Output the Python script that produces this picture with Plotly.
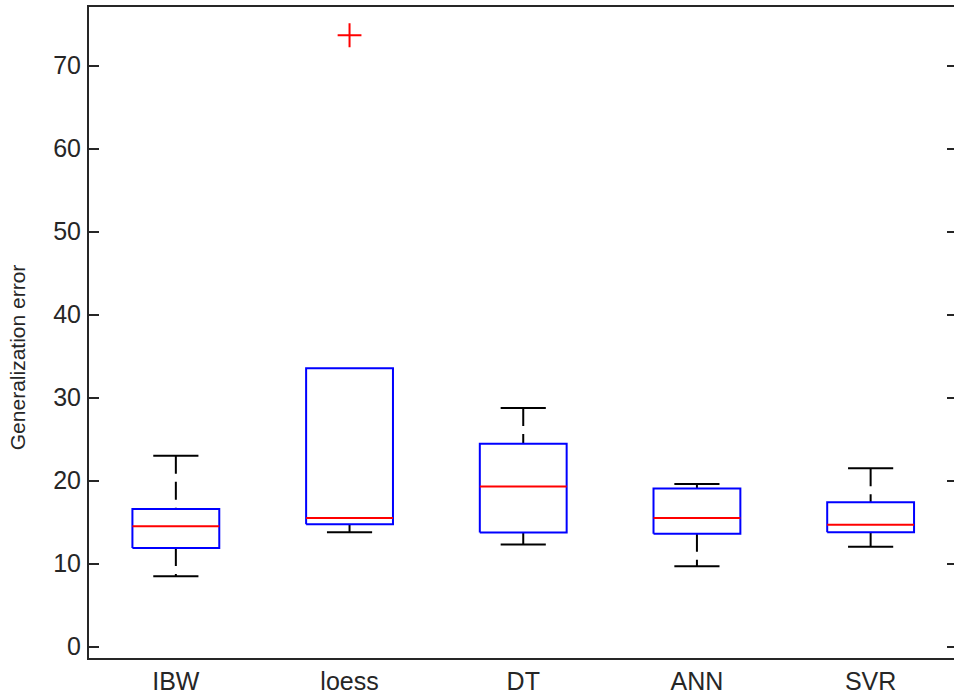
import plotly.graph_objects as go

# Generalization error summary per regression method
methods = ["IBW", "loess", "DT", "ANN", "SVR"]
lower_whisker = [8.5, 13.8, 12.3, 9.7, 12.05]
q1 = [11.9, 14.75, 13.75, 13.6, 13.8]
median = [14.5, 15.5, 19.3, 15.5, 14.7]
q3 = [16.6, 33.55, 24.45, 19.05, 17.4]
upper_whisker = [23.0, 33.55, 28.75, 19.6, 21.5]
outlier_method = ["loess"]
outlier_value = [73.65]

y_ticks = [0, 10, 20, 30, 40, 50, 60, 70]

BOX_HALF = 0.25
CAP_HALF = 0.13
FONT = "Liberation Sans, Arial, sans-serif"
INK = "#262626"

pos = list(range(1, len(methods) + 1))

# whisker stems (dashed), caps (solid), boxes (blue), medians (red)
wx, wy, cx, cy, bx, by, mx, my = [], [], [], [], [], [], [], []
for p, lo, a, m, b, hi in zip(pos, lower_whisker, q1, median, q3, upper_whisker):
    if hi > b:
        wx += [p, p, None]
        wy += [hi, b, None]
        cx += [p - CAP_HALF, p + CAP_HALF, None]
        cy += [hi, hi, None]
    if lo < a:
        wx += [p, p, None]
        wy += [a, lo, None]
        cx += [p - CAP_HALF, p + CAP_HALF, None]
        cy += [lo, lo, None]
    bx += [p - BOX_HALF, p + BOX_HALF, p + BOX_HALF, p - BOX_HALF, p - BOX_HALF, None]
    by += [a, a, b, b, a, None]
    mx += [p - BOX_HALF, p + BOX_HALF, None]
    my += [m, m, None]

ox = [pos[methods.index(n)] for n in outlier_method]

fig = go.Figure()
fig.add_trace(go.Scatter(x=wx, y=wy, mode="lines",
                         line=dict(color="black", width=2, dash="18px,8px")))
fig.add_trace(go.Scatter(x=cx, y=cy, mode="lines",
                         line=dict(color="black", width=2)))
fig.add_trace(go.Scatter(x=bx, y=by, mode="lines",
                         line=dict(color="#0000FF", width=2)))
fig.add_trace(go.Scatter(x=mx, y=my, mode="lines",
                         line=dict(color="#FF0000", width=2)))
fig.add_trace(go.Scatter(x=ox, y=outlier_value, mode="markers",
                         marker=dict(symbol="cross-thin", size=17,
                                     line=dict(color="#FF0000", width=2))))
# invisible trace to activate the right-hand tick axis
fig.add_trace(go.Scatter(x=[pos[0]], y=[y_ticks[0]], yaxis="y2", mode="markers",
                         marker=dict(opacity=0), hoverinfo="skip"))

y_range = [-1.36, 77.05]

fig.update_layout(
    width=954, height=696,
    margin=dict(l=89, r=0, t=7, b=38),
    paper_bgcolor="white", plot_bgcolor="white",
    showlegend=False,
    font=dict(family=FONT, size=25, color=INK),
    xaxis=dict(range=[0.5, 5.48], tickvals=pos, ticktext=methods,
               ticks="", showgrid=False, zeroline=False,
               showline=True, linecolor=INK, linewidth=2, mirror=True,
               ticklabelstandoff=0),
    yaxis=dict(range=y_range, tickvals=y_ticks, ticks="inside", ticklen=10,
               tickwidth=2, tickcolor=INK, showgrid=False, zeroline=False,
               showline=True, linecolor=INK, linewidth=2,
               ticklabelstandoff=1),
    yaxis2=dict(range=y_range, tickvals=y_ticks, overlaying="y", side="right",
                ticks="inside", ticklen=7, tickwidth=2, tickcolor=INK,
                showticklabels=False, showgrid=False, zeroline=False,
                showline=False),
    annotations=[dict(text="Generalization error", textangle=-90,
                      xref="paper", yref="paper", x=0, y=0.462,
                      xanchor="center", yanchor="middle", xshift=-72,
                      showarrow=False, font=dict(family=FONT, size=21, color=INK))],
)

fig.write_html("out.html")
